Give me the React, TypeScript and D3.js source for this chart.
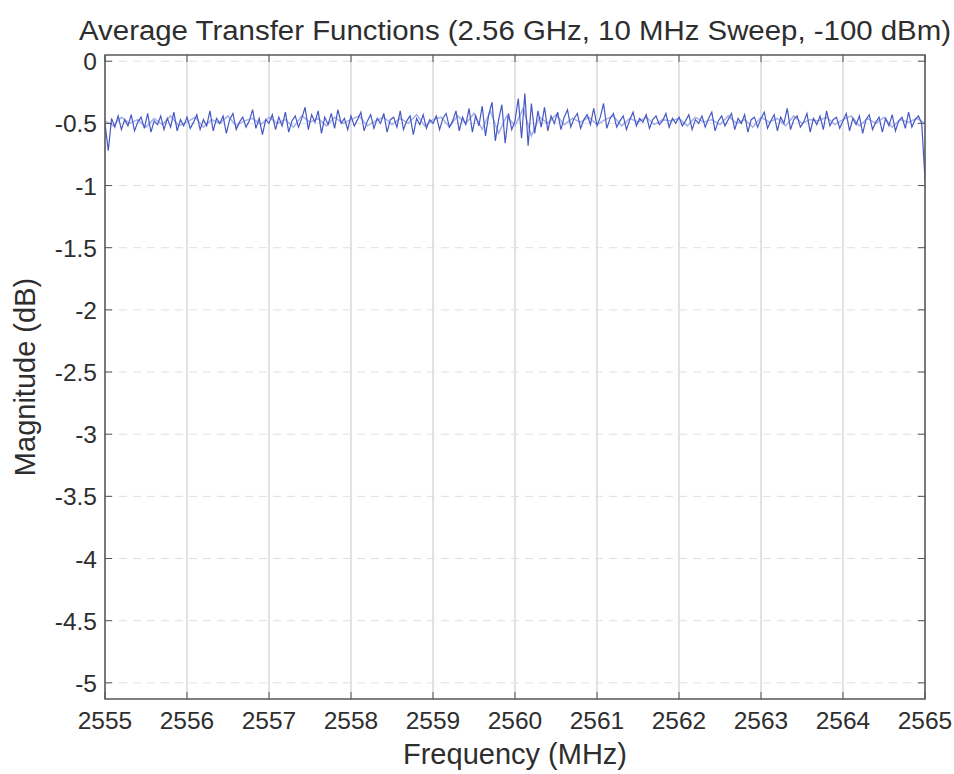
import * as d3 from "d3";

const TITLE = "Average Transfer Functions (2.56 GHz, 10 MHz Sweep, -100 dBm)";
const X_LABEL = "Frequency (MHz)";
const Y_LABEL = "Magnitude (dB)";

const X_TICKS = [2555, 2556, 2557, 2558, 2559, 2560, 2561, 2562, 2563, 2564, 2565];
const Y_TICKS = [0, -0.5, -1, -1.5, -2, -2.5, -3, -3.5, -4, -4.5, -5];

// main trace, one value every 0.04 MHz from 2555
const MAIN_START = 2555;
const MAIN_STEP = 0.04;
const mainTrace = [
  -0.5, -0.72, -0.46, -0.53, -0.44, -0.55, -0.47, -0.52, -0.43, -0.56, -0.49, -0.45, -0.54, -0.42, -0.57, -0.48, -0.51, -0.44, -0.55, -0.46, -0.53, -0.41, -0.56, -0.47, -0.52,
  -0.45, -0.54, -0.49, -0.43, -0.55, -0.47, -0.52, -0.4, -0.56, -0.46, -0.5, -0.44, -0.58, -0.47, -0.42, -0.55, -0.49, -0.45, -0.53, -0.48, -0.39, -0.54, -0.46, -0.59, -0.47,
  -0.5, -0.43, -0.55, -0.45, -0.52, -0.41, -0.57, -0.48, -0.44, -0.53, -0.46, -0.37, -0.55, -0.43, -0.49, -0.4, -0.58, -0.45, -0.51, -0.42, -0.54, -0.39, -0.5, -0.46, -0.55,
  -0.44, -0.52, -0.47, -0.41, -0.56, -0.48, -0.43, -0.54, -0.46, -0.5, -0.42, -0.57, -0.47, -0.45, -0.53, -0.4, -0.55, -0.48, -0.44, -0.59, -0.46, -0.51, -0.43, -0.54, -0.47,
  -0.5, -0.44, -0.55, -0.46, -0.42, -0.53, -0.48, -0.4, -0.56, -0.45, -0.51, -0.38, -0.57, -0.44, -0.52, -0.36, -0.6, -0.43, -0.33, -0.64, -0.47, -0.35, -0.66, -0.42, -0.55,
  -0.48, -0.3, -0.62, -0.26, -0.68, -0.34, -0.58, -0.4, -0.53, -0.37, -0.56, -0.44, -0.5, -0.41, -0.55, -0.45, -0.39, -0.53, -0.46, -0.42, -0.54, -0.47, -0.43, -0.51, -0.38,
  -0.52, -0.45, -0.34, -0.54, -0.46, -0.42, -0.53, -0.48, -0.44, -0.55, -0.47, -0.41, -0.52, -0.46, -0.49, -0.43, -0.54, -0.47, -0.44, -0.51, -0.48, -0.42, -0.53, -0.46, -0.5,
  -0.45, -0.52, -0.48, -0.43, -0.55, -0.47, -0.5, -0.44, -0.53, -0.46, -0.41, -0.56, -0.48, -0.44, -0.52, -0.47, -0.42, -0.55, -0.46, -0.5, -0.43, -0.57, -0.47, -0.45, -0.53,
  -0.46, -0.41, -0.54, -0.48, -0.43, -0.56, -0.45, -0.5, -0.38, -0.55, -0.47, -0.44, -0.53, -0.49, -0.42, -0.57, -0.46, -0.51, -0.44, -0.55, -0.4, -0.52, -0.47, -0.45, -0.54,
  -0.48, -0.42, -0.56, -0.46, -0.51, -0.44, -0.58, -0.47, -0.43, -0.55, -0.49, -0.45, -0.57, -0.46, -0.52, -0.43, -0.56, -0.48, -0.45, -0.54, -0.41, -0.53, -0.47, -0.44, -0.5,
  -0.95,
];

// lighter trace, one value every 0.1 MHz
const LIGHT_START = 2555;
const LIGHT_STEP = 0.1;
const lightTrace = [
  -0.48, -0.52, -0.45, -0.5, -0.47, -0.53, -0.46, -0.51, -0.44, -0.52,
  -0.49, -0.45, -0.53, -0.47, -0.5, -0.44, -0.52, -0.48, -0.46, -0.51,
  -0.45, -0.5, -0.47, -0.53, -0.44, -0.49, -0.46, -0.52, -0.45, -0.5,
  -0.47, -0.44, -0.52, -0.48, -0.45, -0.51, -0.46, -0.5, -0.43, -0.52,
  -0.47, -0.45, -0.53, -0.44, -0.5, -0.42, -0.55, -0.4, -0.58, -0.44,
  -0.52, -0.38, -0.6, -0.45, -0.5, -0.43, -0.51, -0.46, -0.49, -0.45,
  -0.51, -0.47, -0.44, -0.52, -0.46, -0.49, -0.45, -0.51, -0.47, -0.48,
  -0.46, -0.52, -0.45, -0.49, -0.47, -0.51, -0.44, -0.5, -0.47, -0.53,
  -0.45, -0.49, -0.46, -0.52, -0.44, -0.5, -0.47, -0.48, -0.45, -0.51,
  -0.47, -0.44, -0.52, -0.46, -0.5, -0.45, -0.53, -0.47, -0.49, -0.46,
  -0.5,
];

const W = 954;
const H = 774;
const margin = { top: 55, right: 29, bottom: 75, left: 105 };
const FONT = "'Liberation Sans', Arial, sans-serif";

export default function App() {
  const x = d3.scaleLinear().domain([2555, 2565]).range([margin.left, W - margin.right]);
  const y = d3.scaleLinear().domain([-5.13, 0.05]).range([H - margin.bottom, margin.top]);

  const line = d3.line<number>()
    .x((_, i) => x(MAIN_START + i * MAIN_STEP))
    .y((d) => y(d));
  const lightLine = d3.line<number>()
    .x((_, i) => x(LIGHT_START + i * LIGHT_STEP))
    .y((d) => y(d));

  const [x0, x1] = x.range();
  const [y0, y1] = y.range();

  return (
    <svg width={W} height={H} style={{ position: "absolute", left: 0, top: 0, background: "#fff" }}>
      <defs>
        <clipPath id="plot">
          <rect x={x0} y={y1} width={x1 - x0} height={y0 - y1} />
        </clipPath>
      </defs>

      {/* grid */}
      {X_TICKS.map((t) => (
        <line key={"gx" + t} x1={x(t)} x2={x(t)} y1={y1} y2={y0} stroke="#cfcfcf" strokeWidth={1.2} />
      ))}
      {Y_TICKS.map((t) => (
        <line key={"gy" + t} x1={x0} x2={x1} y1={y(t)} y2={y(t)} stroke="#e0e0e0" strokeWidth={1} strokeDasharray="8 6" />
      ))}

      {/* traces */}
      <g clipPath="url(#plot)">
        <path d={lightLine(lightTrace) ?? ""} fill="none" stroke="#a4b0ea" strokeWidth={1.5} />
        <path d={line(mainTrace) ?? ""} fill="none" stroke="#4658c4" strokeWidth={1.2} />
      </g>

      {/* box + inward ticks */}
      <rect x={x0} y={y1} width={x1 - x0} height={y0 - y1} fill="none" stroke="#555" strokeWidth={1.5} />
      {X_TICKS.map((t) => (
        <g key={"tx" + t}>
          <line x1={x(t)} x2={x(t)} y1={y0} y2={y0 - 7} stroke="#555" />
          <line x1={x(t)} x2={x(t)} y1={y1} y2={y1 + 7} stroke="#555" />
          <text x={x(t)} y={y0 + 30} textAnchor="middle" fontFamily={FONT} fontSize={24.5} fill="#2e2e2e">
            {t}
          </text>
        </g>
      ))}
      {Y_TICKS.map((t) => (
        <g key={"ty" + t}>
          <line x1={x0} x2={x0 + 7} y1={y(t)} y2={y(t)} stroke="#555" />
          <line x1={x1} x2={x1 - 7} y1={y(t)} y2={y(t)} stroke="#555" />
          <text x={x0 - 8} y={y(t) + 9} textAnchor="end" fontFamily={FONT} fontSize={24.5} fill="#2e2e2e">
            {t}
          </text>
        </g>
      ))}

      {/* labels */}
      <text x={(x0 + x1) / 2} y={40} textAnchor="middle" fontFamily={FONT} fontSize={27} fill="#2e2e2e" textLength={872} lengthAdjust="spacingAndGlyphs">
        {TITLE}
      </text>
      <text x={(x0 + x1) / 2} y={764} textAnchor="middle" fontFamily={FONT} fontSize={29} fill="#2e2e2e">
        {X_LABEL}
      </text>
      <text transform={`translate(35,${(y0 + y1) / 2}) rotate(-90)`} textAnchor="middle" fontFamily={FONT} fontSize={29} fill="#2e2e2e">
        {Y_LABEL}
      </text>
    </svg>
  );
}
